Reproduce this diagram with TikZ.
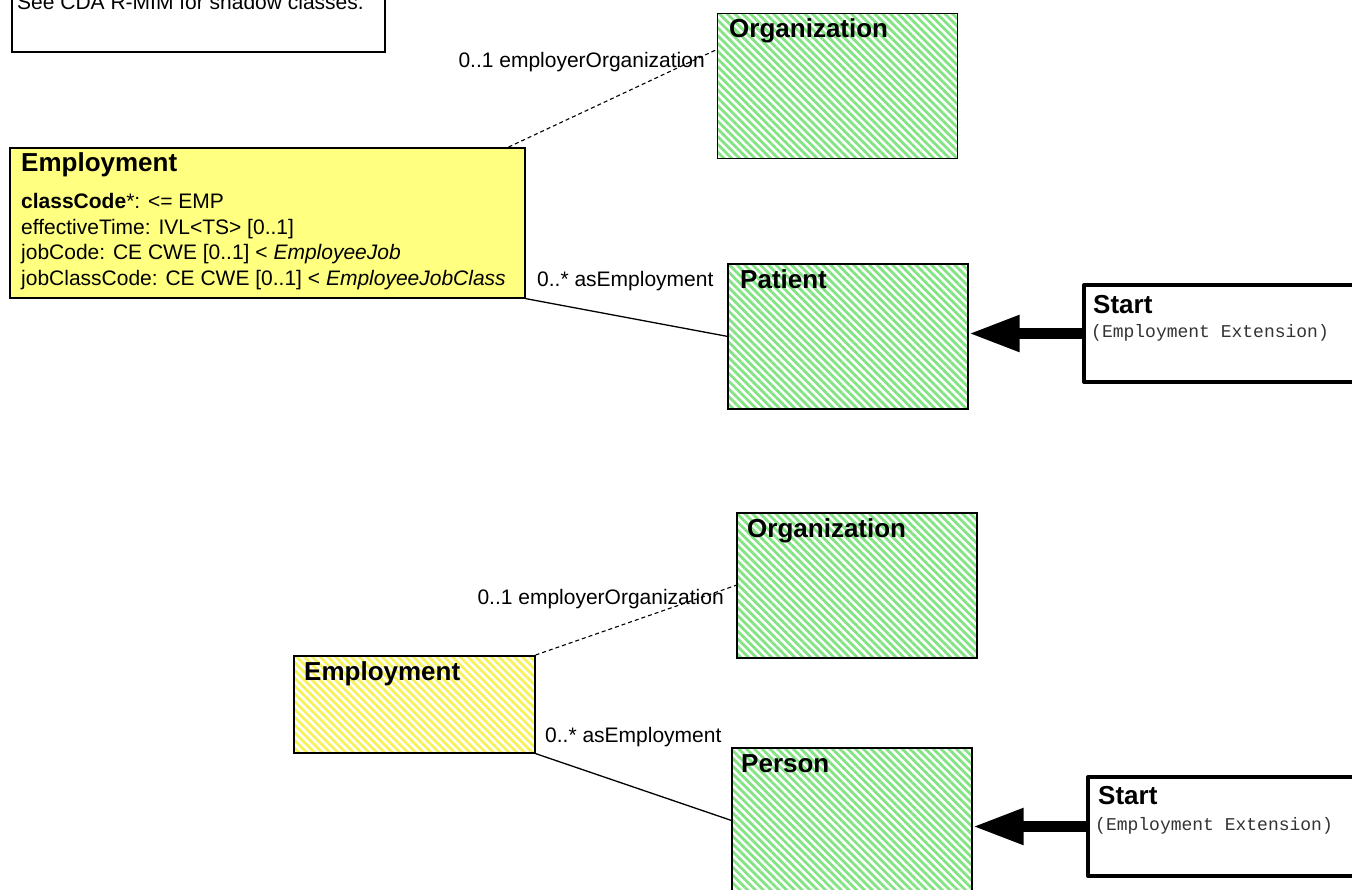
\documentclass[tikz,border=0pt]{standalone}
\usepackage{fontspec}
\setmainfont{Liberation Sans}
\setmonofont{Liberation Mono}
\usepackage{tikz}
\usetikzlibrary{arrows.meta, positioning, patterns.meta, calc}
\definecolor{clsyellow}{RGB}{255,255,128}
\definecolor{hatchgreen}{RGB}{130,228,130}
\definecolor{hatchyellow}{RGB}{248,242,90}
\tikzset{
    classbox/.style={rectangle, draw=black, line width=1.6pt, inner sep=0pt, anchor=north west, minimum width=240pt, minimum height=145pt},
    shadowgreen/.style={classbox, pattern={Lines[angle=-45, distance=5.5pt, line width=2.8pt]}, pattern color=hatchgreen},
    shadowyellow/.style={classbox, pattern={Lines[angle=-45, distance=5.5pt, line width=2.8pt]}, pattern color=hatchyellow},
    startbox/.style={rectangle, draw=black, line width=4pt, line join=round, fill=white, inner sep=0pt, anchor=north west, minimum width=330pt},
    hdr/.style={anchor=base west, inner sep=0pt, font=\fontsize{26}{30}\selectfont\bfseries},
    txt/.style={inner sep=0pt, font=\fontsize{21}{25.7}\selectfont},
    mono/.style={anchor=base west, inner sep=0pt, text=black!80, font=\fontsize{18}{20}\selectfont\ttfamily}
}

\begin{document}
\begin{tikzpicture}[
    x=1pt, y=-1pt,
    assoc/.style={line width=1.3pt},
    dashedassoc/.style={line width=1.1pt, dash pattern=on 4pt off 3pt},
    startarrow/.style={line width=11pt, -{Triangle[length=51pt, width=34pt]}}
]
    \useasboundingbox (0,0) rectangle (1352,889);
    \fill[white] (0,0) rectangle (1352,889);

    % Note box (cut at the top)
    \node[rectangle, draw=black, line width=1.6pt, inner sep=0pt, anchor=north west, minimum width=373pt, minimum height=111pt] (note) at (11,-60) {};
    \node[txt, anchor=base west] (notetext) at (17,9) {See CDA R-MIM for shadow classes.};

    % Top diagram: Employment of a Patient
    \node[classbox, fill=clsyellow, minimum width=515pt, minimum height=150pt] (emp1) at (9,147) {};
    \node[hdr] (emp1t) at ($(emp1.north west)+(12,24)$) {Employment};
    \node[txt, anchor=north west, align=left] (emp1attr) at ($(emp1.north west)+(12,46)$) {\textbf{classCode}*: <= EMP\\effectiveTime: IVL<TS> [0..1]\\jobCode: CE CWE [0..1] < \textit{EmployeeJob}\\jobClassCode: CE CWE [0..1] < \textit{EmployeeJobClass}};

    \node[shadowgreen] (org1) at (716,12) {};
    \node[hdr] (org1t) at ($(org1.north west)+(13,25)$) {Organization};
    \node[shadowgreen] (patient) at (727,263) {};
    \node[hdr] (patientt) at ($(patient.north west)+(13,25)$) {Patient};

    \node[startbox, minimum height=97pt] (start1) at (1082,283) {};
    \node[hdr] (start1t) at ($(start1.north west)+(11,30)$) {Start};
    \node[mono] (start1sub) at ($(start1.north west)+(9,54)$) {(Employment Extension)};

    \node[txt, anchor=base east] (emp1orgrole) at (705,67) {0..1 employerOrganization};
    \node[txt, anchor=base west] (emp1patrole) at (537,286) {0..* asEmployment};

    \draw[dashedassoc] ([xshift=-17pt]emp1.north east) -- ([yshift=36pt]org1.west);
    \draw[assoc] (emp1.south east) -- (patient.west);
    \draw[startarrow] (start1.west) -- (patient.east |- start1.west);

    % Bottom diagram: Employment of a Person
    \node[shadowyellow, minimum width=241pt, minimum height=97pt] (emp2) at (293,655) {};
    \node[hdr] (emp2t) at ($(emp2.north west)+(11,25)$) {Employment};

    \node[shadowgreen] (org2) at (736,512) {};
    \node[hdr] (org2t) at ($(org2.north west)+(11,25)$) {Organization};
    \node[shadowgreen] (person) at (731,747) {};
    \node[hdr] (persont) at ($(person.north west)+(10,25)$) {Person};

    \node[startbox, minimum height=99pt] (start2) at (1086,775) {};
    \node[hdr] (start2t) at ($(start2.north west)+(12,29)$) {Start};
    \node[mono] (start2sub) at ($(start2.north west)+(9,55)$) {(Employment Extension)};

    \node[txt, anchor=base east] (emp2orgrole) at (724,604) {0..1 employerOrganization};
    \node[txt, anchor=base west] (emp2perrole) at (545,742) {0..* asEmployment};

    \draw[dashedassoc] (emp2.north east) -- (org2.west);
    \draw[assoc] (emp2.south east) -- (person.west);
    \draw[startarrow] (start2.west) -- (person.east |- start2.west);

\end{tikzpicture}
\end{document}
